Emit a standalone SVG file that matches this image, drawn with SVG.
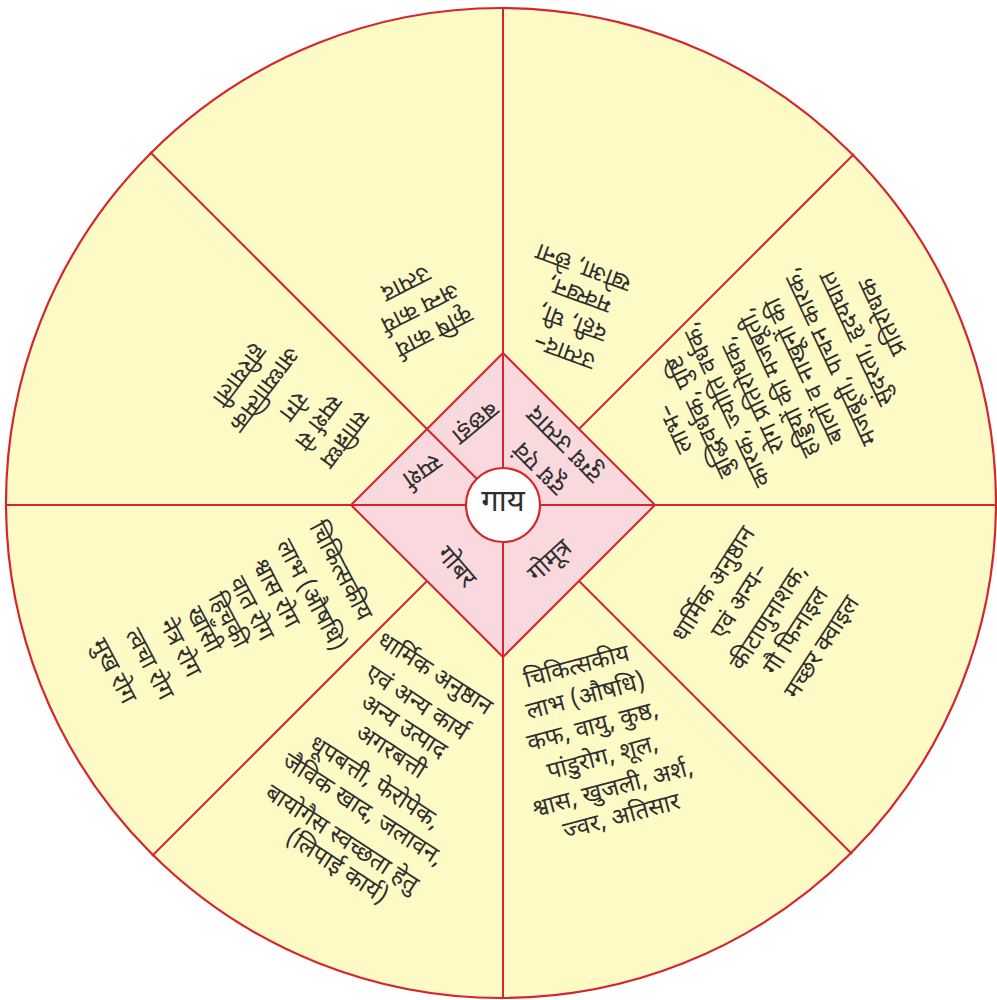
<svg xmlns="http://www.w3.org/2000/svg" width="997" height="1000" viewBox="0 0 997 1000">
<style>
.t{font-family:"Noto Sans Devanagari","Lohit Devanagari","Noto Sans","FreeSans",sans-serif;font-size:24px;fill:#2e2e2e;text-anchor:middle;dominant-baseline:central}
.ts{text-anchor:start}
.in{font-size:25px}
.ln{stroke:#d3262d;stroke-width:2;fill:none}
</style>
<rect width="997" height="1000" fill="#ffffff"/>
<circle cx="501" cy="503" r="495" fill="#fefac6" stroke="#d3262d" stroke-width="2.2"/>
<polygon points="503,353 655,505 503,657 351,505" fill="#f9d9dd" stroke="#d3262d" stroke-width="2"/>
<g id="connectors" class="ln">
<line x1="503" y1="8" x2="503" y2="998"/>
<line x1="6" y1="505" x2="996" y2="505"/>
<line x1="150" y1="152" x2="503" y2="505"/>
<line x1="854" y1="154" x2="579" y2="429"/>
<line x1="852" y1="854" x2="579" y2="581"/>
<line x1="152" y1="856" x2="427" y2="581"/>
</g>
<g id="gaay">
<circle cx="503" cy="505" r="37" fill="#ffffff" stroke="#d3262d" stroke-width="2.2"/>
<text class="t" x="503" y="503" style="font-size:31px">गाय</text>
</g>
<g id="doodh"><text class="t in" transform="translate(541,467) rotate(225)">दूध एवं</text><text class="t in" transform="translate(566,443) rotate(225)">दुग्ध उत्पाद</text></g>
<g id="bachhda"><text class="t in" transform="translate(474,421) rotate(140)">बछड़ा</text></g>
<g id="sparsh"><text class="t in" transform="translate(421,469) rotate(145)">स्पर्श</text></g>
<g id="gobar"><text class="t in" transform="translate(455,568) rotate(49)">गोबर</text></g>
<g id="gomutra"><text class="t in" transform="translate(551,562) rotate(-42)">गोमूत्र</text></g>

<g id="sector-doodh-products">
<text class="t" transform="translate(565,350) rotate(200)">उत्पाद–</text>
<text class="t" transform="translate(573,321) rotate(200)">दही, घी,</text>
<text class="t" transform="translate(580,293) rotate(200)">मक्खन,</text>
<text class="t" transform="translate(584,266) rotate(200)">खोआ, छेना</text>
</g>
<g id="sector-doodh-benefits">
<text class="t" transform="translate(677,428) rotate(245)">लाभ–</text>
<text class="t" transform="translate(702,416) rotate(245)">बुद्धिवर्धक, पुष्टि</text>
<text class="t" transform="translate(728,404) rotate(245)">कारक, ज्योति वर्धक,</text>
<text class="t" transform="translate(754,394) rotate(245)">रोग प्रतिरोधक,</text>
<text class="t" transform="translate(780,382) rotate(245)">हड्डियों की मजबूती,</text>
<text class="t" transform="translate(806,370) rotate(245)">बालों व नाखूनों की</text>
<text class="t" transform="translate(832,356) rotate(245)">मजबूती, पाचन कारक,</text>
<text class="t" transform="translate(858,338) rotate(245)">सुंदरता, हृदयघात</text>
<text class="t" transform="translate(884,316) rotate(245)">प्रतिरोधक</text>
</g>
<g id="sector-bachhda">
<text class="t" transform="translate(433,330) rotate(153)">कृषि कार्य</text>
<text class="t" transform="translate(419,306) rotate(153)">अन्य कार्य</text>
<text class="t" transform="translate(405,282) rotate(153)">उत्पाद</text>
</g>
<g id="sector-sparsh">
<text class="t" transform="translate(343,438) rotate(127)">सान्निध्य</text>
<text class="t" transform="translate(317,421) rotate(127)">स्पर्श से</text>
<text class="t" transform="translate(292,405) rotate(127)">रोग</text>
<text class="t" transform="translate(263,388) rotate(127)">आध्यात्मिक</text>
<text class="t" transform="translate(238,374) rotate(127)">हरियाली</text>
</g>
<g id="sector-gobar-medical">
<text class="t ts" transform="translate(314,524) rotate(62)">चिकित्सकीय</text>
<text class="t ts" transform="translate(281,542) rotate(62)">लाभ (औषधि)</text>
<text class="t ts" transform="translate(257,561) rotate(62)">श्वास रोग</text>
<text class="t ts" transform="translate(234,579) rotate(62)">वात रोग</text>
<text class="t ts" transform="translate(213,595) rotate(62)">हिचकी</text>
<text class="t ts" transform="translate(191,609) rotate(62)">खाँसी</text>
<text class="t ts" transform="translate(164,621) rotate(62)">नेत्र रोग</text>
<text class="t ts" transform="translate(130,631) rotate(62)">त्वचा रोग</text>
<text class="t ts" transform="translate(96,641) rotate(62)">मुख रोग</text>
</g>
<g id="sector-gobar-uses">
<text class="t" transform="translate(434,675) rotate(33)">धार्मिक अनुष्ठान</text>
<text class="t" transform="translate(416,704) rotate(33)">एवं अन्य कार्य</text>
<text class="t" transform="translate(403,728) rotate(33)">अन्य उत्पाद</text>
<text class="t" transform="translate(390,753) rotate(33)">अगरबत्ती</text>
<text class="t" transform="translate(374,784) rotate(33)">धूपबत्ती, फेरोपेक,</text>
<text class="t" transform="translate(362,811) rotate(33)">जैविक खाद, जलावन,</text>
<text class="t" transform="translate(341,840) rotate(33)">बायोगैस स्वच्छता हेतु</text>
<text class="t" transform="translate(336,868) rotate(33)">(लिपाई कार्य)</text>
</g>
<g id="sector-gomutra-medical">
<text class="t" transform="translate(577,668) rotate(-15)">चिकित्सकीय</text>
<text class="t" transform="translate(586,698) rotate(-15)">लाभ (औषधि)</text>
<text class="t" transform="translate(593,728) rotate(-15)">कफ, वायु, कुष्ठ,</text>
<text class="t" transform="translate(603,759) rotate(-15)">पांडुरोग, शूल,</text>
<text class="t" transform="translate(613,790) rotate(-15)">श्वास, खुजली, अर्श,</text>
<text class="t" transform="translate(622,818) rotate(-15)">ज्वर, अतिसार</text>
</g>
<g id="sector-gomutra-uses">
<text class="t" transform="translate(715,585) rotate(-57)">धार्मिक अनुष्ठान</text>
<text class="t" transform="translate(741,602) rotate(-57)">एवं अन्य–</text>
<text class="t" transform="translate(770,618) rotate(-57)">कीटाणुनाशक,</text>
<text class="t" transform="translate(797,632) rotate(-57)">गौ फिनाइल</text>
<text class="t" transform="translate(823,648) rotate(-57)">मच्छर क्वाइल</text>
</g>
</svg>
